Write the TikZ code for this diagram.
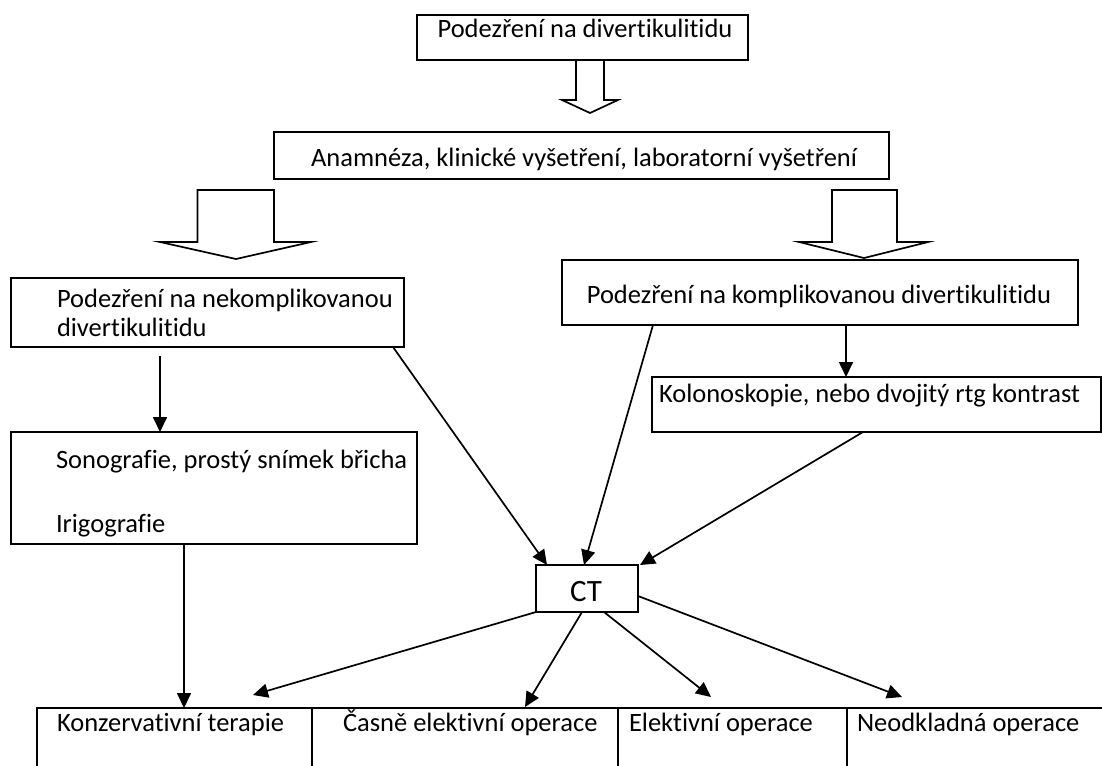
\documentclass[tikz,border=0pt]{standalone}
\usepackage{fontspec}
\setmainfont{Carlito}[Ligatures=NoCommon]
\usetikzlibrary{calc,arrows.meta}
\begin{document}
\begin{tikzpicture}[x=1pt,y=-1pt,
  box/.style={draw, line width=1.7pt, inner sep=0pt, outer sep=0pt, rectangle},
  txt/.style={inner sep=0pt, outer sep=0pt, font=\fontsize{26.5}{32}\selectfont},
  conn/.style={line width=1.7pt, -{Triangle[length=15pt,width=14pt]}},
  blk/.style={line width=1.7pt, line join=miter}]
\fill[white] (0,0) rectangle (1102,765);
\useasboundingbox (0,0) rectangle (1102,765);
% boxes
\node[box, minimum width=331, minimum height=45] (b1) at (582.5,37.5) {};
\node[box, minimum width=615, minimum height=47] (b2) at (581.5,155.5) {};
\node[box, minimum width=393, minimum height=69] (b3) at (207.5,312.5) {};
\node[box, minimum width=516, minimum height=65] (b4) at (820,292.5) {};
\node[box, minimum width=449, minimum height=55] (b5) at (876.5,404.5) {};
\node[box, minimum width=406, minimum height=112] (sono) at (214,488) {};
\node[box, minimum width=102, minimum height=47] (ct) at (587,588.5) {};
\begin{scope}
\clip (0,0) rectangle (1102,765);
\node[box, minimum width=275, minimum height=72] (k1) at (174.5,744) {};
\node[box, minimum width=306, minimum height=72] (k2) at (465,744) {};
\node[box, minimum width=229, minimum height=72] (k3) at (732.5,744) {};
\node[box, minimum width=263, minimum height=72] (k4) at (978.5,744) {};
\end{scope}
% texts
\node[txt, anchor=base] (t1) at (585,38) {Podezření na divertikulitidu};
\node[txt, anchor=base] (t2) at (584,166) {Anamnéza, klinické vyšetření, laboratorní vyšetření};
\node[txt, anchor=base west] (t3a) at (57,307) {Podezření na nekomplikovanou};
\node[txt, anchor=base west] (t3b) at (57,336) {divertikulitidu};
\node[txt, anchor=base] (t4) at (819,303) {Podezření na komplikovanou divertikulitidu};
\node[txt, anchor=base west] (t5) at (659,402) {Kolonoskopie, nebo dvojitý rtg kontrast};
\node[txt, anchor=base west] (t6a) at (56,468) {Sonografie, prostý snímek břicha};
\node[txt, anchor=base west] (t6b) at (56,532) {Irigografie};
\node[txt, anchor=base, font=\fontsize{31}{36}\selectfont] (tct) at (586,601) {CT};
\node[txt, anchor=base west] (tk1) at (57,731) {Konzervativní terapie};
\node[txt, anchor=base west] (tk2) at (343,731) {Časně elektivní operace};
\node[txt, anchor=base west] (tk3) at (629,731) {Elektivní operace};
\node[txt, anchor=base west] (tk4) at (857,731) {Neodkladná operace};
% block arrows
\draw[blk] ($(b1.south west)+(159,0)$) -- ++(0,40) -- ++(-14,0) -- ++(28,13) -- ++(28,-13) -- ++(-14,0) -- ++(0,-40);
\draw[blk] ($(b2.north west)+(-76.5,58)$) -- ++(0,52) -- ++(-37.5,0) -- ++(76,17) -- ++(75,-17) -- ++(-37,0) -- ++(0,-52) -- cycle;
\draw[blk] ($(b2.north east)+(-57,58)$) -- ++(0,52) -- ++(-33,0) -- ++(65,16) -- ++(64,-16) -- ++(-31,0) -- ++(0,-52) -- cycle;
% connectors
\draw[conn] ($(b3.south west)+(149,9)$) -- ($(sono.north west)+(149,0)$);
\draw[conn] ($(b4.south west)+(284,0)$) -- ($(b5.north west)+(194,0)$);
\draw[conn] ($(sono.south west)+(173,0)$) -- ($(k1.north west)+(147,0)$);
\draw[conn] ($(b3.south east)+(-11,0)$) -- ($(ct.north west)+(11,0)$);
\draw[conn] ($(b4.south west)+(91,0)$) -- ($(ct.north west)+(48,0)$);
\draw[conn] ($(b5.south west)+(211,0)$) -- ($(ct.north east)+(2,0)$);
\draw[conn] (ct.south west) -- ($(k1.north west)+(216,-13)$);
\draw[conn] ($(ct.south west)+(46,0)$) -- ($(k2.north west)+(213,-1)$);
\draw[conn] ($(ct.south west)+(68,0)$) -- ($(k3.north west)+(93,-11)$);
\draw[conn] ($(ct.north east)+(0,31)$) -- ($(k4.north west)+(55,-11)$);
\end{tikzpicture}
\end{document}
